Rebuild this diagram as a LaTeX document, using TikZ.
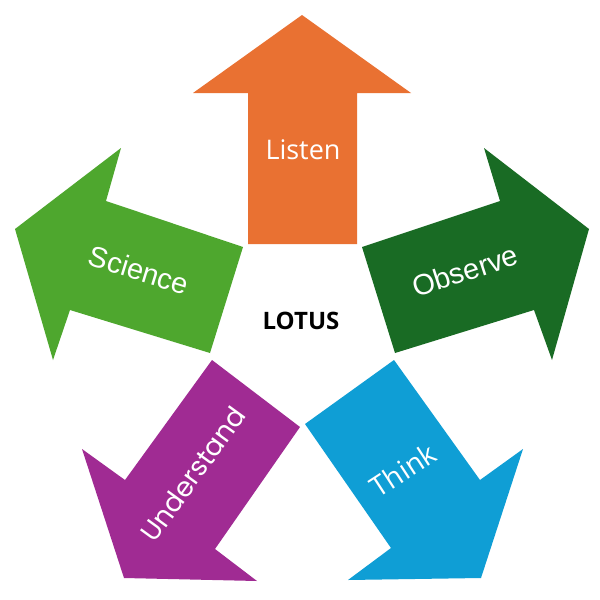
\documentclass[tikz,border=0pt]{standalone}
\usepackage{fontspec}
\setmainfont{Open Sans}
\newfontfamily\arialf{Liberation Sans}
\newfontfamily\popf{Poppins}
\definecolor{lorange}{HTML}{E97132}
\definecolor{dgreen}{HTML}{196B24}
\definecolor{lgreen}{HTML}{4EA72E}
\definecolor{lblue}{HTML}{0F9ED5}
\definecolor{lpurple}{HTML}{A02B93}
\begin{document}
\begin{tikzpicture}[x=1pt,y=-1pt,
  lbl/.style={text=white, inner sep=0pt, anchor=center}]
\useasboundingbox (0,0) rectangle (600,600);
\fill[white] (0,0) rectangle (600,600);
% arrows
\fill[lorange] (302,15) -- (411,93) -- (357,93) -- (357,244) -- (248,244) -- (248,93) -- (193,93) -- cycle;
\fill[dgreen] (362,247) -- (500,201) -- (484,148) -- (589,229) -- (552,360) -- (534,310) -- (395,353) -- cycle;
\fill[lgreen] (243,247) -- (106,201) -- (121,148) -- (15,229) -- (53,360) -- (70,310) -- (210,353) -- cycle;
\fill[lblue] (394,360) -- (480,480) -- (523,449) -- (481,578) -- (348,580) -- (391,548) -- (305,424) -- cycle;
\fill[lpurple] (212,360) -- (125,480) -- (82,449) -- (124,578) -- (257,581) -- (215,549) -- (300,427) -- cycle;
% labels
\node[lbl, font=\fontsize{27}{27}\selectfont] (listen) at (303,150) {Listen};
\node[lbl, font=\arialf\fontsize{29}{29}\selectfont, rotate=18] (observe) at (465,271) {Observe};
\node[lbl, font=\arialf\fontsize{29}{29}\selectfont, rotate=-17] (science) at (139,270) {Science};
\node[lbl, font=\fontsize{28}{28}\selectfont, rotate=33] (think) at (403,470) {Think};
\node[lbl, font=\popf\fontsize{27}{27}\selectfont, rotate=54] (understand) at (193,474) {Understand};
\node[inner sep=0pt, font=\bfseries\fontsize{24}{24}\selectfont] (lotus) at (301,321) {LOTUS};
\end{tikzpicture}
\end{document}
